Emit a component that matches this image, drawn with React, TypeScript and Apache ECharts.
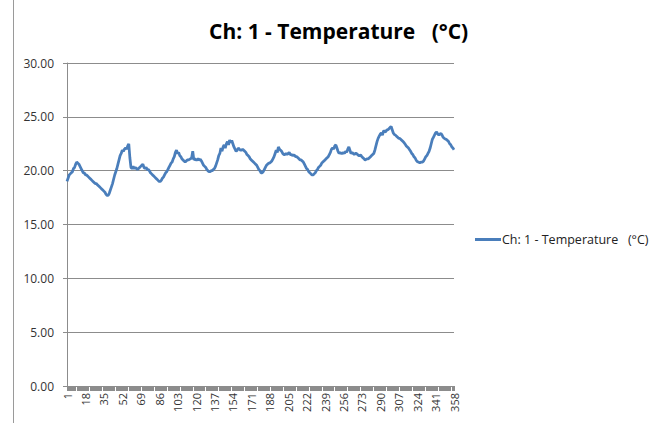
import React, { useEffect, useRef } from "react";
import * as echarts from "echarts";

const seriesName = "Ch: 1 - Temperature   (°C)";

const categories: string[] = [];
for (let i = 1; i <= 358; i++) categories.push(String(i));

const temperature: number[] = [
  19.0, 19.3, 19.6, 19.7, 19.8, 19.9, 20.2, 20.3, 20.6, 20.8,
  20.7, 20.6, 20.4, 20.2, 20.0, 19.8, 19.8, 19.6, 19.6, 19.5,
  19.4, 19.3, 19.2, 19.1, 19.0, 18.9, 18.8, 18.8, 18.7, 18.6,
  18.5, 18.4, 18.3, 18.2, 18.1, 18.0, 17.8, 17.7, 17.7, 17.9,
  18.2, 18.5, 18.8, 19.2, 19.6, 19.9, 20.2, 20.6, 21.0, 21.4,
  21.6, 21.9, 21.8, 22.0, 22.1, 22.0, 22.3, 22.5, 21.2, 20.3,
  20.2, 20.4, 20.2, 20.3, 20.2, 20.1, 20.2, 20.3, 20.4, 20.5,
  20.6, 20.3, 20.2, 20.3, 20.1, 20.1, 20.0, 19.8, 19.7, 19.6,
  19.5, 19.4, 19.3, 19.2, 19.1, 19.0, 19.0, 19.1, 19.3, 19.4,
  19.6, 19.8, 19.9, 20.1, 20.3, 20.5, 20.7, 20.8, 21.1, 21.3,
  21.7, 21.9, 21.6, 21.7, 21.4, 21.3, 21.1, 21.0, 20.9, 20.8,
  20.9, 21.0, 21.0, 21.05, 21.1, 21.2, 21.8, 21.0, 21.1, 21.0,
  21.0, 21.1, 21.0, 21.05, 20.9, 20.7, 20.5, 20.4, 20.3, 20.1,
  20.0, 19.9, 19.9, 20.0, 20.0, 20.1, 20.2, 20.4, 20.7, 21.0,
  21.4, 21.6, 22.1, 21.8, 22.2, 22.4, 22.1, 22.5, 22.7, 22.4,
  22.85, 22.6, 22.8, 22.5, 22.2, 22.0, 21.8, 21.9, 22.1, 22.0,
  21.9, 21.9, 22.0, 21.9, 21.8, 21.7, 21.5, 21.4, 21.3, 21.1,
  21.0, 20.9, 20.8, 20.7, 20.6, 20.5, 20.3, 20.1, 20.0, 19.8,
  19.8, 19.9, 20.1, 20.3, 20.5, 20.6, 20.7, 20.7, 20.8, 20.9,
  21.1, 21.3, 21.6, 21.9, 21.7, 22.2, 22.0, 21.9, 21.8, 21.6,
  21.5, 21.5, 21.6, 21.5, 21.6, 21.7, 21.5, 21.5, 21.4, 21.45,
  21.4, 21.3, 21.3, 21.2, 21.1, 21.0, 21.0, 20.9, 20.8, 20.6,
  20.4, 20.2, 20.1, 19.9, 19.8, 19.7, 19.6, 19.6, 19.7, 19.8,
  20.0, 20.1, 20.3, 20.4, 20.5, 20.7, 20.8, 20.9, 21.0, 21.1,
  21.2, 21.3, 21.5, 21.7, 22.0, 22.1, 22.0, 22.3, 22.4, 22.1,
  21.8, 21.6, 21.7, 21.6, 21.6, 21.7, 21.6, 21.8, 21.7, 22.0,
  22.2, 21.9, 21.6, 21.7, 21.6, 21.5, 21.6, 21.6, 21.5, 21.4,
  21.4, 21.45, 21.3, 21.2, 21.1, 21.0, 21.05, 21.1, 21.1, 21.2,
  21.3, 21.4, 21.5, 21.6, 21.9, 22.3, 22.7, 23.0, 23.2, 23.4,
  23.5, 23.3, 23.7, 23.65, 23.6, 23.8, 23.8, 23.9, 24.0, 24.1,
  23.8, 23.5, 23.35, 23.3, 23.2, 23.1, 23.0, 23.0, 22.9, 22.8,
  22.7, 22.6, 22.45, 22.3, 22.2, 22.1, 21.95, 21.8, 21.6, 21.5,
  21.3, 21.2, 21.0, 20.85, 20.8, 20.75, 20.75, 20.8, 20.8, 20.9,
  21.1, 21.3, 21.4, 21.6, 21.8, 22.1, 22.5, 22.9, 23.1, 23.3,
  23.5, 23.6, 23.4, 23.3, 23.4, 23.45, 23.3, 23.1, 23.0, 22.95,
  22.9, 22.8, 22.7, 22.5, 22.4, 22.2, 22.1, 21.95,
];

const yMin = 0;
const yMax = 30;
const yStep = 5;

export default function App() {
  const ref = useRef<HTMLDivElement>(null);
  useEffect(() => {
    if (!ref.current) return;
    const chart = echarts.init(ref.current, null, { renderer: "svg" });
    chart.setOption({
      animation: false,
      backgroundColor: "#ffffff",
      title: {
        text: seriesName,
        left: 204,
        top: 15,
        padding: 5,
        textStyle: {
          fontFamily: "Open Sans",
          fontWeight: "bold",
          fontSize: 21,
          color: "#000000",
        },
      },
      legend: {
        data: [seriesName],
        left: 470,
        top: 228,
        icon: "rect",
        itemWidth: 26,
        itemHeight: 3,
        itemGap: 2,
        textStyle: {
          fontFamily: "Open Sans",
          fontSize: 12.5,
          color: "#222222",
          padding: [0, 0, 0, -4],
        },
      },
      graphic: [
        {
          type: "line",
          shape: { x1: 13.5, y1: 0, x2: 13.5, y2: 423 },
          style: { stroke: "#9a9a9a", lineWidth: 1 },
        },
      ],
      grid: {
        left: 67,
        right: 205,
        top: 63,
        bottom: 37,
        containLabel: false,
      },
      xAxis: {
        type: "category",
        data: categories,
        boundaryGap: false,
        axisLine: { show: true, lineStyle: { color: "#8c8c8c", width: 1 } },
        axisTick: {
          show: true,
          interval: 0,
          length: 5,
          lineStyle: { color: "#8c8c8c", width: 1 },
        },
        axisLabel: {
          interval: 16,
          rotate: 90,
          margin: 7,
          fontFamily: "Open Sans",
          fontSize: 11,
          color: "#333333",
        },
        splitLine: { show: false },
      },
      yAxis: {
        type: "value",
        min: yMin,
        max: yMax,
        interval: yStep,
        axisLine: { show: true, lineStyle: { color: "#8c8c8c", width: 1 } },
        axisTick: { show: true, length: 4, lineStyle: { color: "#8c8c8c" } },
        axisLabel: {
          formatter: (v: number) => v.toFixed(2),
          margin: 13,
          fontFamily: "Open Sans",
          fontSize: 12,
          color: "#333333",
        },
        splitLine: { show: true, lineStyle: { color: "#8c8c8c", width: 1 } },
      },
      series: [
        {
          name: seriesName,
          type: "line",
          data: temperature,
          showSymbol: false,
          symbol: "none",
          lineStyle: { color: "#4a7ebb", width: 2.75 },
          itemStyle: { color: "#4a7ebb" },
        },
      ],
    });
    return () => chart.dispose();
  }, []);
  return (
    <div
      ref={ref}
      style={{ position: "fixed", left: 0, top: 0, width: 659, height: 423 }}
    />
  );
}
